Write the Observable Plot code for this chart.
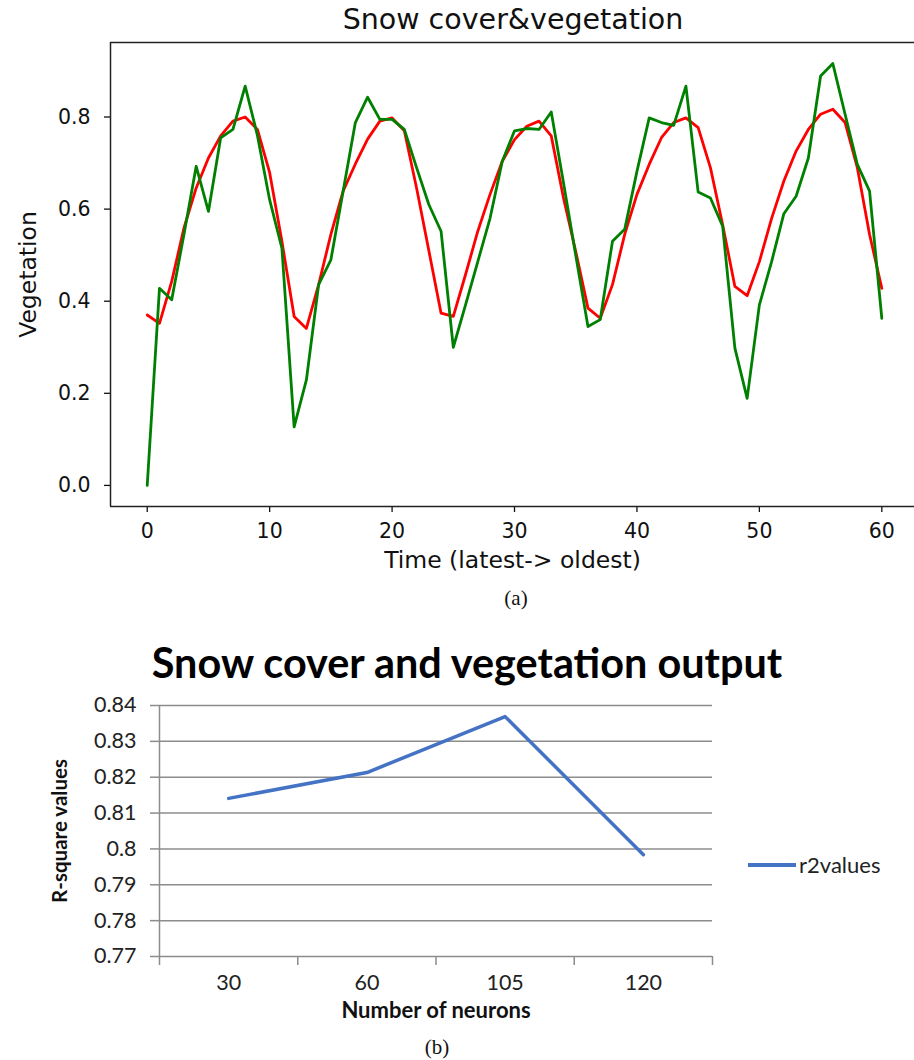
<!DOCTYPE html>
<html>
<head>
<meta charset="utf-8">
<script src="https://cdn.jsdelivr.net/npm/d3@7"></script>
<script src="https://cdn.jsdelivr.net/npm/@observablehq/plot@0.6"></script>
<style>
  body { margin: 0; background: #fff; }
  #wrap { position: relative; width: 914px; height: 1060px; overflow: hidden; background: #fff; }
  .abs { position: absolute; white-space: nowrap; line-height: 1; }
  .center { transform: translateX(-50%); }
  #chartA, #chartB { position: absolute; left: 0; }
  #chartA { top: 0; }
  #chartB { top: 640px; }
</style>
</head>
<body>
<div id="wrap">
  <div id="chartA"></div>
  <div id="chartB"></div>
  <div class="abs center" style="left:513px; top:6px; font-family:'DejaVu Sans'; font-size:28.5px; color:#111;">Snow cover&amp;vegetation</div>
  <div class="abs center" style="left:516px; top:588px; font-family:'Liberation Serif'; font-size:21px; color:#111;">(a)</div>
  <div class="abs center" style="left:467px; top:642px; font-family:Lato; font-weight:bold; font-size:41.4px; color:#000;">Snow cover and vegetation output</div>
  <div class="abs" style="left:748px; top:853px; height:24px; display:flex; align-items:center; font-family:Lato; font-size:22px; color:#222;">
    <span style="display:inline-block; width:48px; height:3.5px; background:#4472c4; margin-right:3px;"></span>r2values
  </div>
  <div class="abs center" style="left:437px; top:1037px; font-family:'Liberation Serif'; font-size:21px; color:#111;">(b)</div>
</div>
<script>
// ---- Chart (a): Snow cover & vegetation ----
const timeSteps = d3.range(0, 61);
const vegetationObserved = [
  0.000, 0.428, 0.403, 0.545, 0.693, 0.595, 0.755, 0.773, 0.867, 0.760,
  0.620, 0.515, 0.127, 0.229, 0.436, 0.490, 0.639, 0.788, 0.843, 0.795,
  0.795, 0.773, 0.690, 0.610, 0.552, 0.300, 0.392, 0.486, 0.580, 0.704,
  0.770, 0.775, 0.773, 0.811, 0.657, 0.500, 0.345, 0.360, 0.530, 0.556,
  0.682, 0.798, 0.788, 0.782, 0.867, 0.637, 0.624, 0.563, 0.298, 0.189,
  0.392, 0.486, 0.590, 0.628, 0.711, 0.889, 0.916, 0.806, 0.697, 0.639,
  0.363
];
const vegetationPredicted = [
  0.370, 0.352, 0.443, 0.559, 0.646, 0.711, 0.759, 0.791, 0.800, 0.773,
  0.679, 0.530, 0.367, 0.341, 0.436, 0.545, 0.639, 0.698, 0.752, 0.791,
  0.798, 0.770, 0.646, 0.510, 0.374, 0.367, 0.458, 0.552, 0.632, 0.704,
  0.751, 0.780, 0.791, 0.759, 0.624, 0.508, 0.385, 0.363, 0.436, 0.545,
  0.632, 0.697, 0.755, 0.788, 0.798, 0.777, 0.690, 0.566, 0.432, 0.412,
  0.486, 0.580, 0.661, 0.726, 0.773, 0.806, 0.817, 0.788, 0.690, 0.545,
  0.428
];
const timeTicks = [0, 10, 20, 30, 40, 50, 60];
const vegTicks = [0.0, 0.2, 0.4, 0.6, 0.8];

// ---- Chart (b): Snow cover and vegetation output ----
const neurons = ["30", "60", "105", "120"];
const r2values = [0.8141, 0.8213, 0.8369, 0.7984];
const r2Ticks = [0.77, 0.78, 0.79, 0.80, 0.81, 0.82, 0.83, 0.84];

const observedRows = timeSteps.map((t, i) => ({t, v: vegetationObserved[i]}));
const predictedRows = timeSteps.map((t, i) => ({t, v: vegetationPredicted[i]}));

const xMin = -3, xMax = 62.67;
const yMin = -0.0458, yMax = 0.9618;

const chartA = Plot.plot({
  width: 914,
  height: 590,
  marginTop: 42,
  marginBottom: 84,
  marginLeft: 110,
  marginRight: 0,
  style: {fontFamily: "DejaVu Sans", fontSize: "20.5px", color: "#111", background: "transparent"},
  x: {domain: [xMin, xMax]},
  y: {domain: [yMin, yMax]},
  marks: [
    Plot.axisX(timeTicks, {tickSize: 6, tickPadding: 11, strokeWidth: 1.3, label: null, tickFormat: d => String(d)}),
    Plot.axisY(vegTicks, {tickSize: 6, tickPadding: 14, strokeWidth: 1.3, label: null, tickFormat: d3.format(".1f")}),
    Plot.ruleX([xMin], {stroke: "#222", strokeWidth: 1.5}),
    Plot.ruleY([yMin, yMax], {stroke: "#222", strokeWidth: 1.5}),
    Plot.line(predictedRows, {x: "t", y: "v", stroke: "#ff0000", strokeWidth: 2.8}),
    Plot.line(observedRows, {x: "t", y: "v", stroke: "#008000", strokeWidth: 2.8}),
    Plot.text(["Vegetation"], {frameAnchor: "left", textAnchor: "middle", rotate: -90, dx: -82, fontSize: 23.5, fill: "#111"}),
    Plot.text(["Time (latest-> oldest)"], {frameAnchor: "bottom", dy: 61, fontSize: 23.5, fill: "#111"})
  ]
});
document.getElementById("chartA").appendChild(chartA);

const r2Rows = neurons.map((n, i) => ({i, n, r: r2values[i]}));
const bandEdges = d3.range(neurons.length + 1).map(k => k - 0.5);

const chartB = Plot.plot({
  width: 914,
  height: 400,
  marginTop: 65,
  marginBottom: 84,
  marginLeft: 159,
  marginRight: 202,
  style: {fontFamily: "Lato", fontSize: "21.5px", color: "#222", background: "transparent"},
  x: {type: "linear", domain: [-0.5, neurons.length - 0.5]},
  y: {domain: [0.77, 0.84]},
  marks: [
    Plot.gridY(r2Ticks, {stroke: "#8c8c8c", strokeOpacity: 1, strokeWidth: 1.5}),
    Plot.axisY(r2Ticks, {tickSize: 9, tickPadding: 14, stroke: "#8c8c8c", strokeWidth: 1.5, fill: "#222", label: null, tickFormat: d => String(+d.toFixed(2))}),
    Plot.ruleX([-0.5], {stroke: "#8c8c8c", strokeWidth: 1.5}),
    Plot.axisX(bandEdges, {tickSize: 9, stroke: "#8c8c8c", strokeWidth: 1.5, label: null, tickFormat: () => ""}),
    Plot.axisX(d3.range(neurons.length), {tickSize: 0, tickPadding: 18, fill: "#222", label: null, tickFormat: i => neurons[i]}),
    Plot.line(r2Rows, {x: "i", y: "r", stroke: "#4472c4", strokeWidth: 3.5}),
    Plot.text(["R-square values"], {frameAnchor: "left", textAnchor: "middle", rotate: -90, dx: -99, fontSize: 20.5, fontWeight: "bold", fill: "#111"}),
    Plot.text(["Number of neurons"], {frameAnchor: "bottom", dy: 61, fontSize: 22, fontWeight: "bold", fill: "#111"})
  ]
});
document.getElementById("chartB").appendChild(chartB);
</script>
</body>
</html>
